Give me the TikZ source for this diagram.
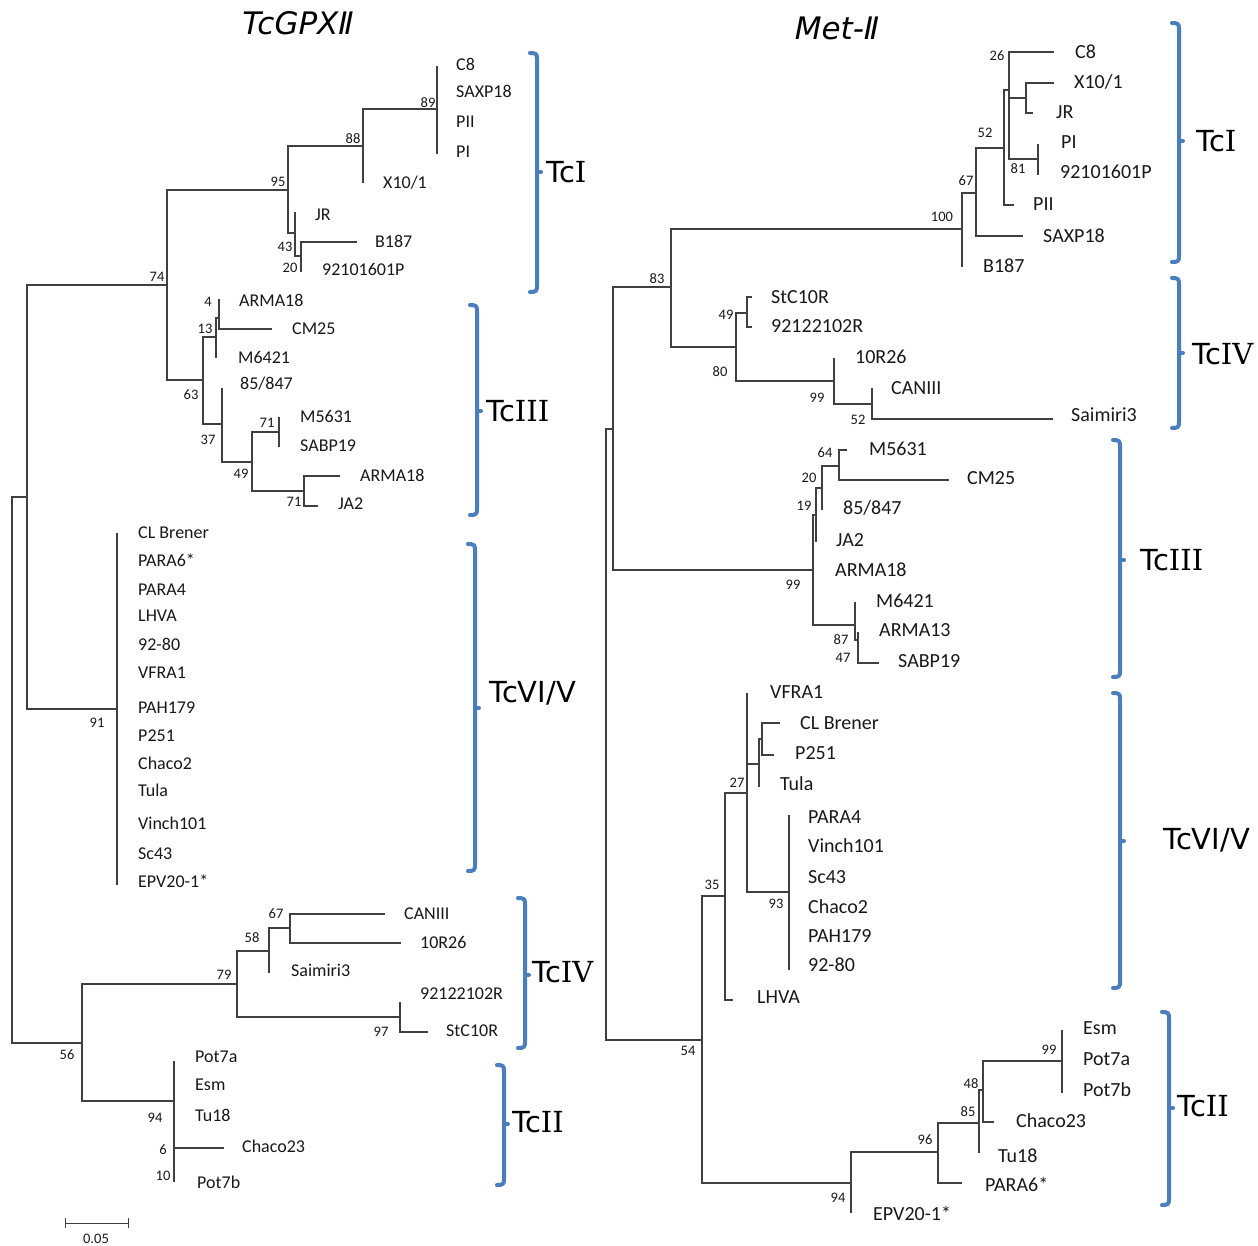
\documentclass[tikz,border=0pt]{standalone}
\usepackage{fontspec}
\setmainfont{Carlito}
\newfontfamily\djv{DejaVu Sans}
\newfontfamily\djs{DejaVu Serif}
\definecolor{cladeblue}{HTML}{4A7EBF}
\definecolor{brgray}{HTML}{404040}
\newcommand\cladebr[4]{% x, top, bottom, mid
  \draw[clade] (#1-7,#2) .. controls (#1-1,#2) and (#1,#2+1) .. (#1,#2+6) -- (#1,#3-6) .. controls (#1,#3-1) and (#1-1,#3) .. (#1-7,#3);
  \draw[clade] (#1,#4) -- (#1+4,#4);}
\newcommand\rn[1]{{\djs #1}}
\begin{document}
\begin{tikzpicture}[x=1pt,y=-1pt,
  br/.style={draw=brgray, line width=1.2pt},
  lfl/.style={anchor=west, inner sep=0pt, font=\fontsize{18}{18}\selectfont, text=black!90},
  lfr/.style={anchor=west, inner sep=0pt, font=\fontsize{20}{20}\selectfont, text=black!90},
  bs/.style={inner sep=0pt, font=\fontsize{14.5}{14.5}\selectfont, text=black!90},
  clade/.style={draw=cladeblue, line width=4pt, line cap=round},
  cl/.style={anchor=west, inner sep=0pt, font=\djv\fontsize{29}{29}\selectfont},
  ttl/.style={inner sep=0pt, font=\djv\itshape\fontsize{31}{31}\selectfont}]
\fill[white] (0,0) rectangle (1258,1245);
\useasboundingbox (0,0) rectangle (1258,1245);

% ---------------- titles
\node[ttl] (t1) at (298,23) {TcGPXⅡ};
\node[ttl] (t2) at (837,28) {Met-Ⅱ};

% ================= LEFT TREE =================
\coordinate (LR) at (12,770);
\coordinate (LA) at (27,497);
\coordinate (L74) at (167,285);
\coordinate (L91) at (117,709);
\coordinate (L95) at (288,190);
\coordinate (L63) at (203,380);
\coordinate (L88) at (363,146);
\coordinate (L43) at (295,233);
\coordinate (L89) at (437,109);
\coordinate (lX10) at (363,183);
\coordinate (lC8) at (437,66);
\coordinate (lPI) at (437,154);
\coordinate (lJR) at (295,212);
\coordinate (L20) at (301,256);
\coordinate (lB187) at (357,242);
\coordinate (l9216) at (301,272);
\coordinate (L13) at (216,337);
\coordinate (L37) at (222,424);
\coordinate (L4) at (219,318);
\coordinate (lM6421) at (216,358);
\coordinate (lARMAa) at (219,299);
\coordinate (lCM25) at (272,329);
\coordinate (l85) at (222,388);
\coordinate (L49) at (252,462);
\coordinate (L71a) at (279,432);
\coordinate (L71b) at (304,491);
\coordinate (lM5631) at (279,417);
\coordinate (lSABP) at (279,447);
\coordinate (lARMAb) at (340,476);
\coordinate (lJA2) at (318,506);
\coordinate (lCLB) at (117,533);
\coordinate (lEPV) at (117,885);
\coordinate (L56) at (82,1043);
\coordinate (L79) at (237,984);
\coordinate (L94) at (174,1101);
\coordinate (L58) at (269,951);
\coordinate (L97) at (400,1017);
\coordinate (L67) at (290,928);
\coordinate (lSai) at (269,973);
\coordinate (lCAN) at (385,914);
\coordinate (l10R) at (401,943);
\coordinate (l9212) at (400,1002);
\coordinate (lStC) at (428,1032);
\coordinate (lPot7a) at (174,1061);
\coordinate (lCha23) at (224,1148);
\coordinate (lPot7b) at (174,1182);

\draw[br] (LR) |- (LA);  \draw[br] (LR) |- (L56);
\draw[br] (LA) |- (L74); \draw[br] (LA) |- (L91);
\draw[br] (L74) |- (L95); \draw[br] (L74) |- (L63);
\draw[br] (L95) |- (L88); \draw[br] (L95) |- (L43);
\draw[br] (L88) |- (L89); \draw[br] (L88) |- (lX10);
\draw[br] (L89) |- (lC8); \draw[br] (L89) |- (lPI);
\draw[br] (L43) |- (lJR); \draw[br] (L43) |- (L20);
\draw[br] (L20) |- (lB187); \draw[br] (L20) |- (l9216);
\draw[br] (L63) |- (L13); \draw[br] (L63) |- (L37);
\draw[br] (L13) |- (L4); \draw[br] (L13) |- (lM6421);
\draw[br] (L4) |- (lARMAa); \draw[br] (L4) |- (lCM25);
\draw[br] (L37) |- (l85); \draw[br] (L37) |- (L49);
\draw[br] (L49) |- (L71a); \draw[br] (L49) |- (L71b);
\draw[br] (L71a) |- (lM5631); \draw[br] (L71a) |- (lSABP);
\draw[br] (L71b) |- (lARMAb); \draw[br] (L71b) |- (lJA2);
\draw[br] (L91) |- (lCLB); \draw[br] (L91) |- (lEPV);
\draw[br] (L56) |- (L79); \draw[br] (L56) |- (L94);
\draw[br] (L79) |- (L58); \draw[br] (L79) |- (L97);
\draw[br] (L58) |- (L67); \draw[br] (L58) |- (lSai);
\draw[br] (L67) |- (lCAN); \draw[br] (L67) |- (l10R);
\draw[br] (L97) |- (l9212); \draw[br] (L97) |- (lStC);
\draw[br] (L94) |- (lPot7a); \draw[br] (L94) |- (lCha23); \draw[br] (L94) |- (lPot7b);

% left leaf labels
\node[lfl] (tLC8) at (456,64) {C8};
\node[lfl] (tLSAXP) at (456,91) {SAXP18};
\node[lfl] (tLPII) at (456,122) {PII};
\node[lfl] (tLPI) at (456,152) {PI};
\node[lfl] (tLX10) at (383,183) {X10/1};
\node[lfl] (tLJR) at (315,215) {JR};
\node[lfl] (tLB187) at (375,241) {B187};
\node[lfl] (tL9216) at (322,269) {92101601P};
\node[lfl] (tLARMAa) at (239,300) {ARMA18};
\node[lfl] (tLCM25) at (292,329) {CM25};
\node[lfl] (tLM6421) at (238,357) {M6421};
\node[lfl] (tL85) at (240,384) {85/847};
\node[lfl] (tLM5631) at (300,416) {M5631};
\node[lfl] (tLSABP) at (300,446) {SABP19};
\node[lfl] (tLARMAb) at (360,475) {ARMA18};
\node[lfl] (tLJA2) at (338,504) {JA2};
\node[lfl] (tL1) at (138,533) {CL Brener};
\node[lfl] (tL2) at (138,560) {PARA6*};
\node[lfl] (tL3) at (138,590) {PARA4};
\node[lfl] (tL4) at (138,616) {LHVA};
\node[lfl] (tL5) at (138,644) {92-80};
\node[lfl] (tL6) at (138,673) {VFRA1};
\node[lfl] (tL7) at (138,708) {PAH179};
\node[lfl] (tL8) at (138,736) {P251};
\node[lfl] (tL9) at (138,763) {Chaco2};
\node[lfl] (tL10) at (138,790) {Tula};
\node[lfl] (tL11) at (138,823) {Vinch101};
\node[lfl] (tL12) at (138,854) {Sc43};
\node[lfl] (tL13) at (138,881) {EPV20-1*};
\node[lfl] (tLCAN) at (404,914) {CANIII};
\node[lfl] (tL10R) at (420,942) {10R26};
\node[lfl] (tLSai) at (291,970) {Saimiri3};
\node[lfl] (tL9212) at (420,994) {92122102R};
\node[lfl] (tLStC) at (446,1031) {StC10R};
\node[lfl] (tLPot7a) at (195,1057) {Pot7a};
\node[lfl] (tLEsm) at (195,1085) {Esm};
\node[lfl] (tLTu18) at (195,1115) {Tu18};
\node[lfl] (tLCha23) at (242,1146) {Chaco23};
\node[lfl] (tLPot7b) at (197,1182) {Pot7b};

% left bootstrap values
\node[bs] (bL74) at (157,277) {74};
\node[bs] (bL95) at (278,182) {95};
\node[bs] (bL88) at (353,139) {88};
\node[bs] (bL89) at (428,103) {89};
\node[bs] (bL43) at (285,247) {43};
\node[bs] (bL20) at (290,268) {20};
\node[bs] (bL4) at (208,302) {4};
\node[bs] (bL13) at (205,329) {13};
\node[bs] (bL63) at (191,395) {63};
\node[bs] (bL37) at (208,440) {37};
\node[bs] (bL71a) at (267,423) {71};
\node[bs] (bL49) at (241,474) {49};
\node[bs] (bL71b) at (294,502) {71};
\node[bs] (bL91) at (97,723) {91};
\node[bs] (bL67) at (276,914) {67};
\node[bs] (bL58) at (252,938) {58};
\node[bs] (bL79) at (224,975) {79};
\node[bs] (bL97) at (381,1032) {97};
\node[bs] (bL56) at (67,1055) {56};
\node[bs] (bL94) at (155,1118) {94};
\node[bs] (bL6) at (163,1150) {6};
\node[bs] (bL10) at (163,1176) {10};

% scale bar
\coordinate (sb1) at (65,1223);
\coordinate (sb2) at (128,1223);
\draw[br, line width=1pt] (sb1) -- (sb2);
\draw[br, line width=1pt] ([yshift=-5]sb1) -- ([yshift=5]sb1);
\draw[br, line width=1pt] ([yshift=-5]sb2) -- ([yshift=5]sb2);
\node[bs] (sbl) at (96,1239) {0.05};

% left clade brackets
\cladebr{537}{53}{292}{172}
\node[cl] (cLI) at (546,172) {Tc\rn{I}};
\cladebr{477}{305}{515}{411}
\node[cl] (cLIII) at (486,411) {Tc\rn{III}};
\cladebr{475}{544}{871}{708}
\node[cl] (cLVI) at (489,693) {TcVI/V};
\cladebr{525}{898}{1048}{975}
\node[cl] (cLIV) at (532,972) {Tc\rn{IV}};
\cladebr{504}{1065}{1185}{1124}
\node[cl] (cLII) at (512,1122) {Tc\rn{II}};

% ================= RIGHT TREE =================
\coordinate (RR) at (606,735);
\coordinate (RB) at (613,429);
\coordinate (R54) at (702,1040);
\coordinate (R83) at (671,287);
\coordinate (R99c) at (813,570);
\coordinate (R100) at (962,229);
\coordinate (R80) at (736,347);
\coordinate (R67) at (976,193);
\coordinate (rB187) at (962,267);
\coordinate (R52) at (1004,148);
\coordinate (rSAXP) at (1023,236);
\coordinate (R26) at (1009,90);
\coordinate (rPII) at (1014,205);
\coordinate (rC8) at (1054,52);
\coordinate (RXJ) at (1026,98);
\coordinate (R81) at (1038,159);
\coordinate (rX10) at (1054,83);
\coordinate (rJR) at (1033,113);
\coordinate (rPI) at (1038,144);
\coordinate (r9216) at (1038,175);
\coordinate (R49) at (747,313);
\coordinate (R99b) at (834,381);
\coordinate (rStC) at (752,297);
\coordinate (r9212) at (752,327);
\coordinate (r10R) at (834,358);
\coordinate (R52b) at (872,404);
\coordinate (rCAN) at (872,388);
\coordinate (rSai) at (1053,419);
\coordinate (R19) at (816,515);
\coordinate (R20) at (822,488);
\coordinate (rJA2) at (816,542);
\coordinate (R64) at (839,466);
\coordinate (r85) at (822,510);
\coordinate (rM5631) at (847,450);
\coordinate (rCM25) at (949,480);
\coordinate (R87) at (855,625);
\coordinate (rM6421) at (855,602);
\coordinate (R47) at (858,640);
\coordinate (rARMA13) at (858,632);
\coordinate (rSABP) at (879,663);
\coordinate (R35) at (725,896);
\coordinate (R94) at (851,1183);
\coordinate (R27) at (747,793);
\coordinate (rLHVA) at (733,1000);
\coordinate (rVFRA) at (747,693);
\coordinate (RT) at (759,764);
\coordinate (R93) at (789,892);
\coordinate (RCP) at (762,739);
\coordinate (rTula) at (759,787);
\coordinate (rCLB) at (780,723);
\coordinate (rP251) at (774,755);
\coordinate (rPARA4) at (789,815);
\coordinate (r9280) at (789,970);
\coordinate (R96) at (938,1152);
\coordinate (rEPV) at (851,1213);
\coordinate (R85) at (979,1123);
\coordinate (rPARA6) at (962,1183);
\coordinate (R48) at (983,1090);
\coordinate (rTu18) at (979,1153);
\coordinate (R99d) at (1062,1061);
\coordinate (rCha23) at (994,1122);
\coordinate (rEsm) at (1062,1030);
\coordinate (rPot7b) at (1062,1093);

\draw[br] (RR) |- (RB); \draw[br] (RR) |- (R54);
\draw[br] (RB) |- (R83); \draw[br] (RB) |- (R99c);
\draw[br] (R83) |- (R100); \draw[br] (R83) |- (R80);
\draw[br] (R100) |- (R67); \draw[br] (R100) |- (rB187);
\draw[br] (R67) |- (R52); \draw[br] (R67) |- (rSAXP);
\draw[br] (R52) |- (R26); \draw[br] (R52) |- (rPII);
\draw[br] (R26) |- (rC8); \draw[br] (R26) |- (RXJ); \draw[br] (R26) |- (R81);
\draw[br] (RXJ) |- (rX10); \draw[br] (RXJ) |- (rJR);
\draw[br] (R81) |- (rPI); \draw[br] (R81) |- (r9216);
\draw[br] (R80) |- (R49); \draw[br] (R80) |- (R99b);
\draw[br] (R49) |- (rStC); \draw[br] (R49) |- (r9212);
\draw[br] (R99b) |- (r10R); \draw[br] (R99b) |- (R52b);
\draw[br] (R52b) |- (rCAN); \draw[br] (R52b) |- (rSai);
\draw[br] (R99c) |- (R19); \draw[br] (R99c) |- (R87);
\draw[br] (R19) |- (R20); \draw[br] (R19) |- (rJA2);
\draw[br] (R20) |- (R64); \draw[br] (R20) |- (r85);
\draw[br] (R64) |- (rM5631); \draw[br] (R64) |- (rCM25);
\draw[br] (R87) |- (rM6421); \draw[br] (R87) |- (R47);
\draw[br] (R47) |- (rARMA13); \draw[br] (R47) |- (rSABP);
\draw[br] (R54) |- (R35); \draw[br] (R54) |- (R94);
\draw[br] (R35) |- (R27); \draw[br] (R35) |- (rLHVA);
\draw[br] (R27) |- (rVFRA); \draw[br] (R27) |- (RT); \draw[br] (R27) |- (R93);
\draw[br] (RT) |- (RCP); \draw[br] (RT) |- (rTula);
\draw[br] (RCP) |- (rCLB); \draw[br] (RCP) |- (rP251);
\draw[br] (R93) |- (rPARA4); \draw[br] (R93) |- (r9280);
\draw[br] (R94) |- (R96); \draw[br] (R94) |- (rEPV);
\draw[br] (R96) |- (R85); \draw[br] (R96) |- (rPARA6);
\draw[br] (R85) |- (R48); \draw[br] (R85) |- (rTu18);
\draw[br] (R48) |- (R99d); \draw[br] (R48) |- (rCha23);
\draw[br] (R99d) |- (rEsm); \draw[br] (R99d) |- (rPot7b);

% right leaf labels
\node[lfr] (tRC8) at (1075,52) {C8};
\node[lfr] (tRX10) at (1074,82) {X10/1};
\node[lfr] (tRJR) at (1056,112) {JR};
\node[lfr] (tRPI) at (1061,142) {PI};
\node[lfr] (tR9216) at (1060,172) {92101601P};
\node[lfr] (tRPII) at (1033,204) {PII};
\node[lfr] (tRSAXP) at (1043,236) {SAXP18};
\node[lfr] (tRB187) at (983,266) {B187};
\node[lfr] (tRStC) at (771,297) {StC10R};
\node[lfr] (tR9212) at (771,326) {92122102R};
\node[lfr] (tR10R) at (855,357) {10R26};
\node[lfr] (tRCAN) at (891,388) {CANIII};
\node[lfr] (tRSai) at (1071,415) {Saimiri3};
\node[lfr] (tRM5631) at (869,449) {M5631};
\node[lfr] (tRCM25) at (967,478) {CM25};
\node[lfr] (tR85) at (843,508) {85/847};
\node[lfr] (tRJA2) at (836,540) {JA2};
\node[lfr] (tRARMA18) at (835,570) {ARMA18};
\node[lfr] (tRM6421) at (876,601) {M6421};
\node[lfr] (tRARMA13) at (879,630) {ARMA13};
\node[lfr] (tRSABP) at (898,661) {SABP19};
\node[lfr] (tRVFRA) at (770,692) {VFRA1};
\node[lfr] (tRCLB) at (800,723) {CL Brener};
\node[lfr] (tRP251) at (795,753) {P251};
\node[lfr] (tRTula) at (780,784) {Tula};
\node[lfr] (tRPARA4) at (808,817) {PARA4};
\node[lfr] (tRVinch) at (808,846) {Vinch101};
\node[lfr] (tRSc43) at (808,877) {Sc43};
\node[lfr] (tRChaco2) at (808,907) {Chaco2};
\node[lfr] (tRPAH) at (808,936) {PAH179};
\node[lfr] (tR9280) at (808,965) {92-80};
\node[lfr] (tRLHVA) at (757,997) {LHVA};
\node[lfr] (tREsm) at (1083,1028) {Esm};
\node[lfr] (tRPot7a) at (1083,1059) {Pot7a};
\node[lfr] (tRPot7b) at (1083,1090) {Pot7b};
\node[lfr] (tRCha23) at (1016,1121) {Chaco23};
\node[lfr] (tRTu18) at (998,1156) {Tu18};
\node[lfr] (tRPARA6) at (985,1184) {PARA6*};
\node[lfr] (tREPV) at (873,1213) {EPV20-1*};

% right bootstrap values
\node[bs] (bR26) at (997,56) {26};
\node[bs] (bR52) at (985,133) {52};
\node[bs] (bR81) at (1018,169) {81};
\node[bs] (bR67) at (966,181) {67};
\node[bs] (bR100) at (942,217) {100};
\node[bs] (bR83) at (657,279) {83};
\node[bs] (bR49) at (726,315) {49};
\node[bs] (bR80) at (720,372) {80};
\node[bs] (bR99b) at (817,398) {99};
\node[bs] (bR52b) at (858,420) {52};
\node[bs] (bR64) at (825,453) {64};
\node[bs] (bR20) at (809,478) {20};
\node[bs] (bR19) at (804,506) {19};
\node[bs] (bR99c) at (793,585) {99};
\node[bs] (bR87) at (841,640) {87};
\node[bs] (bR47) at (843,658) {47};
\node[bs] (bR27) at (737,783) {27};
\node[bs] (bR35) at (712,885) {35};
\node[bs] (bR93) at (776,904) {93};
\node[bs] (bR54) at (688,1051) {54};
\node[bs] (bR99d) at (1049,1050) {99};
\node[bs] (bR48) at (971,1084) {48};
\node[bs] (bR85) at (968,1112) {85};
\node[bs] (bR96) at (925,1140) {96};
\node[bs] (bR94) at (838,1198) {94};

% right clade brackets
\cladebr{1179}{23}{262}{141}
\node[cl] (cRI) at (1196,141) {Tc\rn{I}};
\cladebr{1179}{278}{428}{353}
\node[cl] (cRIV) at (1192,354) {Tc\rn{IV}};
\cladebr{1120}{440}{677}{560}
\node[cl] (cRIII) at (1140,560) {Tc\rn{III}};
\cladebr{1120}{693}{988}{841}
\node[cl] (cRVI) at (1163,840) {TcVI/V};
\cladebr{1169}{1012}{1205}{1108}
\node[cl] (cRII) at (1177,1106) {Tc\rn{II}};
\end{tikzpicture}
\end{document}
